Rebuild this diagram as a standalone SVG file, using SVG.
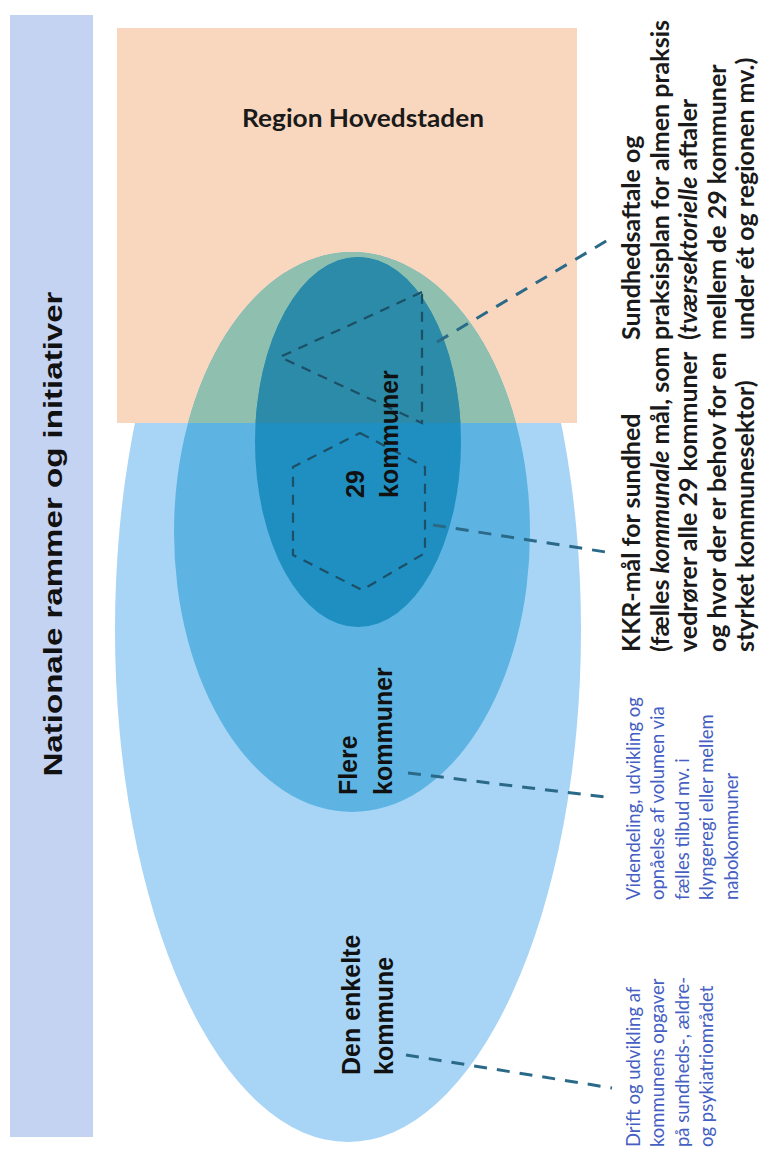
<svg xmlns="http://www.w3.org/2000/svg" width="777" height="1163" viewBox="0 0 777 1163">
<style>
.ctr{font-family:"Liberation Sans",Arial,sans-serif;font-weight:bold;font-size:25px;fill:#111}
.lb{font-family:Lato,"Liberation Sans",sans-serif;font-weight:bold;font-size:25px;fill:#1a1a1a}
.lbl{font-family:Lato,"Liberation Sans",sans-serif;font-size:18.5px;fill:#4560c2}
.conn{fill:none;stroke:#2a6a88;stroke-width:3;stroke-dasharray:13 10}
.inner{fill:none;stroke:#1d4f66;stroke-width:2.2;stroke-dasharray:10 8}
</style>
<defs>
<clipPath id="orangeClip"><rect x="117" y="28" width="460" height="395"/></clipPath>
</defs>
<rect width="777" height="1163" fill="#ffffff"/>
<g id="nationale">
<rect x="10" y="15" width="83" height="1122" fill="#c5d3f2"/>
<text class="ctr" font-size="28" transform="translate(62,534) rotate(-90)" text-anchor="middle" textLength="485" lengthAdjust="spacingAndGlyphs">Nationale rammer og initiativer</text>
</g>
<g id="den-enkelte-kommune">
<ellipse cx="348" cy="630" rx="233" ry="512" fill="#a8d4f6"/>
</g>
<g id="region-hovedstaden">
<rect x="117" y="28" width="460" height="395" fill="#f9d7bf"/>
<text class="lb" x="363" y="127" font-size="24" text-anchor="middle" textLength="242" lengthAdjust="spacingAndGlyphs">Region Hovedstaden</text>
</g>
<g id="flere-kommuner">
<ellipse cx="352" cy="532" rx="178" ry="280" fill="#5db4e2"/>
<ellipse cx="352" cy="532" rx="178" ry="280" fill="#8fbfae" clip-path="url(#orangeClip)"/>
</g>
<g id="kommuner-29">
<ellipse cx="358" cy="442" rx="103" ry="185" fill="#1e8fc0"/>
<ellipse cx="358" cy="442" rx="103" ry="185" fill="#2b8ba8" clip-path="url(#orangeClip)"/>
<path class="inner" d="M422,292 L280,357 L422,423 Z"/>
<path class="inner" d="M360,433 L425,467 L425,553 L362,590 L293,555 L293,467 Z"/>
</g>
<g id="center-labels">
<text class="ctr" transform="translate(364,498) rotate(-90)">29</text>
<text class="ctr" transform="translate(398,498) rotate(-90)">kommuner</text>
<text class="ctr" transform="translate(357,795) rotate(-90)">Flere</text>
<text class="ctr" transform="translate(392,795) rotate(-90)">kommuner</text>
<text class="ctr" transform="translate(360,1075) rotate(-90)">Den enkelte</text>
<text class="ctr" transform="translate(393,1075) rotate(-90)">kommune</text>
</g>
<g id="connectors">
<line class="conn" x1="437" y1="342" x2="613" y2="237"/>
<line class="conn" x1="433" y1="525" x2="612" y2="553"/>
<line class="conn" x1="408" y1="773" x2="613" y2="798"/>
<line class="conn" x1="406" y1="1055" x2="612" y2="1088"/>
</g>
<g id="label-sundhedsaftale">
<text class="lb" transform="translate(640,340) rotate(-90)">
<tspan x="0" y="0">Sundhedsaftale og</tspan>
<tspan x="0" y="28.6">praksisplan for almen praksis</tspan>
<tspan x="0" y="57.2">(<tspan font-style="italic">tværsektorielle</tspan> aftaler</tspan>
<tspan x="0" y="85.8">mellem de 29 kommuner</tspan>
<tspan x="0" y="114.4">under ét og regionen mv.)</tspan>
</text>
</g>
<g id="label-kkr">
<text class="lb" transform="translate(640,652) rotate(-90)">
<tspan x="0" y="0">KKR-mål for sundhed</tspan>
<tspan x="0" y="28.6">(fælles <tspan font-style="italic">kommunale</tspan> mål, som</tspan>
<tspan x="0" y="57.2">vedrører alle 29 kommuner</tspan>
<tspan x="0" y="85.8">og hvor der er behov for en</tspan>
<tspan x="0" y="114.4">styrket kommunesektor)</tspan>
</text>
</g>
<g id="label-videndeling">
<text class="lbl" transform="translate(640,900) rotate(-90)">
<tspan x="0" y="0">Videndeling, udvikling og</tspan>
<tspan x="0" y="24.4">opnåelse af volumen via</tspan>
<tspan x="0" y="48.8">fælles tilbud mv. i</tspan>
<tspan x="0" y="73.2">klyngeregi eller mellem</tspan>
<tspan x="0" y="97.6">nabokommuner</tspan>
</text>
</g>
<g id="label-drift">
<text class="lbl" transform="translate(640,1147) rotate(-90)">
<tspan x="0" y="0">Drift og udvikling af</tspan>
<tspan x="0" y="24.4">kommunens opgaver</tspan>
<tspan x="0" y="48.8">på sundheds-, ældre-</tspan>
<tspan x="0" y="73.2">og psykiatriområdet</tspan>
</text>
</g>
</svg>
